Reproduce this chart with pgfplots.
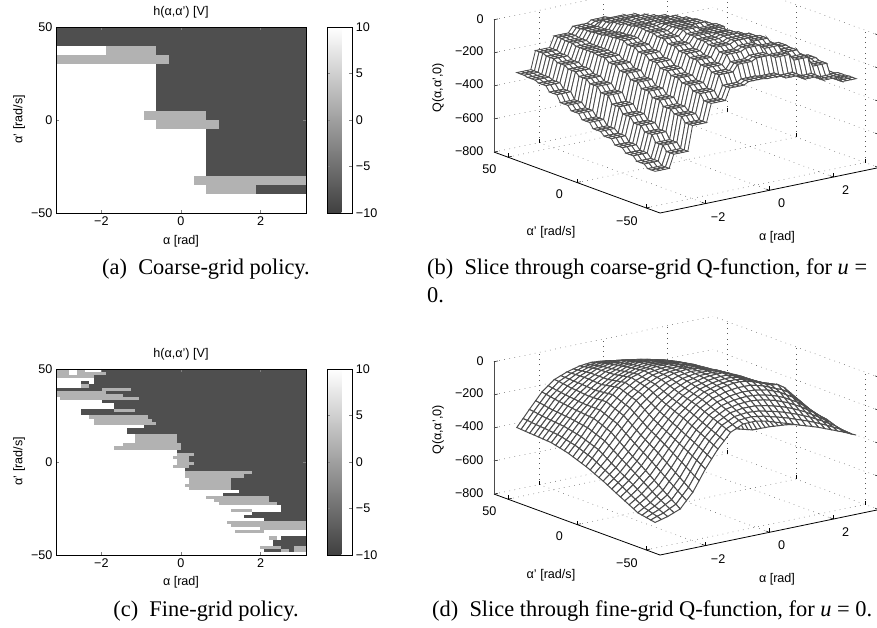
\documentclass[border=0pt]{standalone}
\usepackage{fontspec}
\setmainfont{Liberation Sans}
\newfontfamily\serifcap{Liberation Serif}
\usepackage{pgfplots}
\usepackage{pgfplotstable}
\pgfplotsset{compat=1.18}
\definecolor{hdark}{gray}{0.31}
\definecolor{hmid}{gray}{0.70}
\definecolor{meshc}{gray}{0.30}
\newcommand\tk{\fontsize{12.6}{14}\selectfont}
\newcommand\cp{\serifcap\fontsize{22.4}{25}\selectfont}
\newcommand\R[5]{%
 \pgfmathsetmacro\xa{-3.1416+0.10472*#2}\pgfmathsetmacro\xb{-3.1416+0.10472*#3}%
 \pgfmathsetmacro\ya{50-1.66667*(#4)}\pgfmathsetmacro\yb{50-1.66667*(#5)}%
 \addplot[fill=#1,draw=none,forget plot] coordinates {(\xa,\ya)(\xb,\ya)(\xb,\yb)(\xa,\yb)} --cycle;}
\newcommand\W[2]{\R{white}{0}{#2}{#1}{#1+1}}
\newcommand\Mi[3]{\R{hmid}{#2}{#3}{#1}{#1+1}}
\newcommand\Da[3]{\R{hdark}{#2}{#3}{#1}{#1+1}}
\pgfplotsset{
 policy/.style={scale only axis,width=250pt,height=186pt,
  xmin=-3.1416,xmax=3.1416,ymin=-50,ymax=50,axis on top,
  xtick={-2,0,2},xticklabels={−2,0,2},ytick={-50,0,50},yticklabels={−50,0,50},
  tick align=inside,major tick length=3pt,tick pos=both,tick label style={font=\tk},
  axis line style={line width=.5pt},
  colorbar,point meta min=-10,point meta max=10,
  colormap={g}{gray(0cm)=(0.25);gray(1cm)=(1)},
  colorbar style={scale only axis,width=25.4pt,height=186pt,at={(parent axis.north east)},anchor=north west,xshift=12.5pt,
    ytick={-10,-5,0,5,10},yticklabels={−10,−5,0,5,10},yticklabel pos=right,
    tick label style={font=\tk},major tick length=3pt,tick align=inside,axis line style={line width=.8pt}}},
 qaxis/.style={anchor=origin,x={(32pt,6.64pt)},y={(-1.383pt,0.508pt)},z={(0pt,0.1654pt)},
  xmin=-3.42,xmax=3.42,ymin=-60,ymax=60,zmin=-800,zmax=0,clip=false,
  xtick={-2,0,2},xticklabels={−2,0,2},ytick={-50,0,50},yticklabels={−50,0,50},
  ztick={-800,-600,-400,-200,0},zticklabels={−800,−600,−400,−200,0},
  tick label style={font=\tk},grid=major,
  xtick pos=left,ytick pos=left,ztick pos=left,
  xticklabel style={xshift=6.5pt,yshift=-5pt},
  yticklabel style={xshift=-11pt,yshift=-3pt},
  zticklabel style={xshift=-7pt},
  grid style={line width=.5pt,dash pattern=on .7pt off 4.5pt,black!65},
  axis line style={draw=none},tick style={black,line width=.5pt},major tick length=4pt},
 qsurf/.style={surf,shader=faceted,z buffer=none,faceted color=meshc,line width=.85pt,
  colormap={w}{color(0)=(white) color(1)=(white)},forget plot}
}
% coarse-grid Q values, one per grid cell: rows alpha' high to low, columns alpha high to low
\pgfplotstableread[header=false]{
-500 -350 -240 -160 -115 -85 -75 -90 -125 -190 -300
-480 -310 -200 -130 -85 -55 -55 -85 -130 -200 -305
-440 -280 -180 -105 -60 -35 -40 -80 -140 -215 -315
-410 -260 -160 -85 -40 -20 -25 -70 -140 -230 -345
-380 -250 -150 -75 -25 -8 -15 -65 -145 -250 -385
-345 -240 -140 -65 -15 -3 -20 -80 -165 -270 -410
-400 -300 -190 -100 -30 0 -30 -100 -190 -300 -440
-360 -240 -140 -65 -15 -12 -50 -125 -220 -345 -470
-340 -220 -120 -50 -10 -20 -70 -150 -250 -380 -490
-310 -190 -105 -40 -15 -30 -85 -170 -280 -410 -520
-295 -180 -110 -60 -35 -50 -105 -190 -310 -440 -545
-285 -190 -130 -90 -70 -85 -125 -215 -330 -480 -570
-282 -250 -220 -190 -170 -165 -180 -250 -360 -510 -590
}\Tcoarse
% fine-grid Q: first row alpha values, first column alpha' values
\pgfplotstableread[header=false]{
0 3.1416 2.9452 2.7489 2.5525 2.3562 2.1598 1.9635 1.7671 1.5708 1.3744 1.1781 0.9817 0.7854 0.589 0.3927 0.1963 0 -0.1963 -0.3927 -0.589 -0.7854 -0.9817 -1.1781 -1.3744 -1.5708 -1.7671 -1.9635 -2.1598 -2.3562 -2.5525 -2.7489 -2.9452 -3.1416
50 -645 -582 -520 -460 -400 -350 -300 -262 -225 -200 -175 -160 -145 -132 -120 -110 -100 -92 -85 -81 -78 -81 -85 -95 -105 -120 -135 -165 -195 -240 -285 -332 -378
46.875 -634 -566 -500 -440 -380 -332 -284 -247 -212 -187 -162 -148 -132 -120 -108 -98 -89 -82 -75 -72 -71 -76 -80 -92 -104 -121 -138 -170 -200 -244 -288 -334 -380
43.75 -622 -551 -480 -420 -360 -314 -268 -232 -198 -174 -150 -135 -120 -107 -95 -86 -78 -71 -65 -64 -64 -70 -75 -88 -102 -122 -142 -174 -205 -249 -292 -337 -382
40.625 -611 -536 -460 -400 -340 -296 -252 -217 -184 -161 -138 -122 -108 -94 -82 -74 -66 -60 -55 -56 -57 -64 -70 -85 -101 -124 -146 -178 -210 -254 -296 -340 -384
37.5 -600 -520 -440 -380 -320 -278 -235 -202 -170 -148 -125 -110 -95 -82 -70 -62 -55 -50 -45 -48 -50 -58 -65 -82 -100 -125 -150 -182 -215 -258 -300 -342 -385
34.375 -592 -514 -435 -374 -312 -271 -228 -196 -164 -141 -118 -102 -86 -74 -61 -54 -46 -42 -38 -42 -45 -55 -64 -82 -101 -126 -152 -185 -218 -261 -302 -344 -387
31.25 -584 -507 -430 -368 -305 -264 -222 -190 -158 -134 -110 -94 -78 -65 -52 -45 -38 -35 -32 -36 -40 -52 -62 -82 -102 -128 -155 -188 -222 -264 -305 -347 -389
28.125 -576 -500 -425 -362 -298 -257 -216 -184 -152 -127 -102 -86 -69 -56 -44 -36 -30 -28 -25 -30 -35 -48 -61 -82 -104 -130 -158 -192 -226 -267 -308 -350 -391
25 -568 -494 -420 -355 -290 -250 -210 -178 -145 -120 -95 -78 -60 -48 -35 -28 -22 -20 -18 -24 -30 -45 -60 -82 -105 -132 -160 -195 -230 -270 -310 -352 -393
21.875 -554 -484 -415 -354 -292 -252 -211 -178 -145 -119 -92 -74 -55 -43 -30 -24 -18 -16 -15 -20 -26 -40 -55 -77 -100 -129 -159 -196 -232 -274 -316 -358 -400
18.75 -539 -474 -410 -352 -295 -254 -212 -179 -145 -118 -90 -70 -50 -38 -25 -19 -14 -12 -12 -17 -22 -36 -50 -72 -95 -126 -158 -196 -235 -279 -322 -365 -406
15.625 -525 -464 -405 -351 -298 -256 -214 -180 -145 -116 -88 -66 -45 -33 -20 -14 -10 -8 -8 -14 -18 -32 -45 -67 -90 -123 -156 -197 -238 -284 -328 -372 -413
12.5 -510 -455 -400 -350 -300 -258 -215 -180 -145 -115 -85 -62 -40 -28 -15 -10 -5 -5 -5 -10 -15 -28 -40 -62 -85 -120 -155 -198 -240 -288 -335 -378 -420
9.375 -498 -446 -394 -345 -296 -254 -212 -176 -140 -110 -82 -59 -38 -26 -14 -8 -4 -4 -6 -12 -18 -34 -48 -71 -95 -130 -166 -209 -251 -298 -345 -388 -430
6.25 -485 -436 -388 -340 -292 -250 -208 -171 -135 -106 -78 -56 -35 -24 -12 -7 -2 -4 -6 -14 -22 -39 -55 -80 -105 -141 -178 -220 -262 -309 -355 -398 -440
3.125 -472 -427 -382 -335 -288 -246 -204 -166 -130 -102 -74 -53 -32 -22 -10 -6 -1 -4 -7 -16 -26 -44 -62 -89 -115 -152 -189 -231 -274 -320 -365 -408 -450
0 -460 -418 -375 -330 -285 -242 -200 -162 -125 -98 -70 -50 -30 -19 -8 -4 0 -4 -8 -19 -30 -50 -70 -98 -125 -162 -200 -242 -285 -330 -375 -418 -460
-3.125 -450 -407 -364 -318 -272 -229 -186 -149 -112 -86 -59 -42 -24 -16 -7 -5 -3 -8 -14 -27 -40 -62 -84 -114 -144 -182 -220 -262 -305 -349 -392 -433 -472
-6.25 -440 -396 -352 -306 -260 -216 -172 -136 -108 -84 -60 -40 -22 -12 -6 -6 -6 -13 -20 -35 -50 -74 -98 -130 -162 -201 -240 -282 -325 -368 -410 -448 -485
-9.375 -430 -386 -341 -294 -248 -203 -158 -123 -100 -78 -58 -38 -20 -9 -6 -7 -9 -18 -26 -43 -60 -86 -112 -146 -181 -220 -260 -302 -345 -386 -428 -463 -498
-12.5 -420 -375 -330 -282 -235 -190 -145 -110 -92 -72 -50 -32 -18 -6 -5 -8 -12 -22 -32 -51 -70 -98 -125 -162 -200 -240 -280 -322 -365 -405 -445 -478 -510
-15.625 -413 -366 -320 -272 -224 -180 -136 -104 -90 -70 -50 -34 -20 -10 -10 -13 -18 -28 -39 -58 -79 -108 -136 -175 -215 -256 -298 -340 -384 -422 -462 -494 -525
-18.75 -406 -358 -310 -261 -212 -170 -128 -98 -86 -68 -50 -36 -22 -14 -14 -18 -24 -35 -46 -66 -88 -118 -148 -188 -230 -272 -315 -358 -402 -440 -478 -509 -539
-21.875 -400 -350 -300 -250 -201 -160 -119 -92 -84 -66 -50 -36 -24 -18 -18 -23 -30 -42 -53 -74 -96 -128 -159 -202 -245 -288 -332 -376 -421 -458 -494 -524 -554
-25 -393 -342 -290 -240 -190 -150 -110 -85 -80 -64 -50 -36 -26 -21 -22 -28 -35 -48 -60 -82 -105 -138 -170 -215 -260 -305 -350 -395 -440 -475 -510 -540 -568
-28.125 -390 -341 -291 -247 -202 -166 -130 -106 -92 -76 -60 -50 -40 -40 -39 -44 -50 -62 -72 -94 -116 -150 -184 -230 -275 -322 -370 -415 -460 -494 -528 -556 -582
-31.25 -386 -340 -292 -254 -215 -182 -150 -128 -105 -90 -75 -68 -60 -58 -56 -60 -65 -75 -85 -106 -128 -163 -198 -244 -290 -340 -390 -435 -480 -512 -545 -571 -596
-34.375 -383 -339 -294 -261 -228 -198 -170 -149 -128 -112 -98 -89 -80 -76 -73 -76 -80 -88 -98 -118 -139 -176 -212 -258 -305 -358 -410 -455 -500 -531 -562 -586 -610
-37.5 -380 -338 -295 -268 -240 -215 -190 -170 -150 -135 -120 -110 -100 -95 -90 -92 -95 -102 -110 -130 -150 -188 -225 -272 -320 -375 -430 -475 -520 -550 -580 -602 -625
-40.625 -377 -342 -305 -281 -256 -234 -211 -193 -175 -160 -146 -136 -125 -118 -111 -110 -110 -116 -122 -142 -161 -200 -238 -287 -336 -394 -450 -494 -539 -565 -591 -610 -630
-43.75 -374 -345 -315 -294 -272 -252 -232 -216 -200 -186 -172 -161 -150 -142 -132 -129 -126 -130 -135 -154 -172 -213 -252 -302 -352 -412 -470 -514 -558 -580 -602 -618 -635
-46.875 -372 -348 -325 -307 -288 -271 -254 -239 -225 -212 -198 -186 -175 -165 -154 -148 -142 -144 -148 -166 -184 -226 -266 -317 -368 -430 -490 -533 -576 -595 -614 -626 -640
-50 -369 -352 -335 -320 -305 -290 -275 -262 -250 -238 -225 -212 -200 -188 -175 -166 -158 -159 -160 -178 -195 -238 -280 -332 -385 -448 -510 -552 -595 -610 -625 -635 -645
}\Tfine
\gdef\Fcoords{}%
\foreach \rr in {1,...,33}{%
 \pgfplotstablegetelem{\rr}{0}\of\Tfine\let\vv\pgfplotsretval
 \foreach \cc in {1,...,33}{%
  \pgfplotstablegetelem{0}{\cc}\of\Tfine\let\av\pgfplotsretval
  \pgfplotstablegetelem{\rr}{\cc}\of\Tfine
  \xdef\Fcoords{\Fcoords(\av,\vv,\pgfplotsretval)}%
 }}%
\gdef\Ccoords{}%
\foreach \jj in {0,...,38}{%
 \pgfmathtruncatemacro\rw{min(floor(\jj/3),12)}%
 \pgfmathsetmacro\vv{50-2.63158*\jj}%
 \foreach \ii in {0,...,43}{%
  \pgfmathtruncatemacro\cl{min(floor(\ii/4),10)}%
  \pgfmathsetmacro\av{3.1416-0.14612*\ii}%
  \pgfplotstablegetelem{\rw}{\cl}\of\Tcoarse
  \xdef\Ccoords{\Ccoords(\av,\vv,\pgfplotsretval)}%
 }}%
\begin{document}%
\begin{tikzpicture}[x=1pt,y=1pt]
\path[use as bounding box] (0,0) rectangle (877,627);
% (a)
\begin{axis}[policy,at={(56pt,414pt)},anchor=south west]
\R{hdark}{0}{60}{0}{60}
\R{white}{0}{12}{6}{9}\R{hmid}{12}{24}{6}{9}
\R{hmid}{0}{27}{9}{12}
\R{white}{0}{24}{12}{27}
\R{white}{0}{21}{27}{30}\R{hmid}{21}{36}{27}{30}
\R{white}{0}{24}{30}{33}\R{hmid}{24}{39}{30}{33}
\R{white}{0}{36}{33}{48}
\R{white}{0}{33}{48}{51}\R{hmid}{33}{60}{48}{51}
\R{white}{0}{36}{51}{54}\R{hmid}{36}{48}{51}{54}
\R{white}{0}{60}{54}{60}
\end{axis}
% (c)
\begin{axis}[policy,at={(56pt,72pt)},anchor=south west]
\R{hdark}{0}{60}{0}{60}
\Mi{0}{0}{3}\R{white}{3}{5}{0}{1}\Mi{0}{5}{7}\R{white}{7}{11}{0}{1}
\Mi{1}{0}{3}\R{white}{3}{5}{1}{2}\Mi{1}{5}{12}
\Mi{2}{0}{9}
\W{3}{9}
\W{4}{9}\Da{4}{6}{8}
\W{5}{6}\Mi{5}{6}{8}
\Da{6}{0}{11}\Mi{6}{11}{18}
\Mi{7}{0}{12}
\Mi{8}{0}{16}
\W{9}{1}\Mi{9}{1}{20}
\W{10}{11}
\W{11}{14}
\W{12}{14}
\W{13}{6}\Da{13}{6}{14}\Mi{13}{14}{19}
\W{14}{6}\Da{14}{6}{14}
\W{15}{8}\Mi{15}{8}{22}
\W{16}{9}\Mi{16}{9}{23}
\W{17}{9}\Mi{17}{9}{24}
\W{18}{21}
\W{19}{17}
\W{20}{17}
\W{21}{19}\Mi{21}{19}{29}
\W{22}{19}\Mi{22}{19}{29}
\W{23}{19}\Mi{23}{19}{29}
\W{24}{16}\Mi{24}{16}{30}
\W{25}{14}\Mi{25}{14}{30}
\W{26}{29}
\W{27}{29}\Mi{27}{29}{33}
\W{28}{28}\Mi{28}{28}{32}
\W{29}{29}\Mi{29}{29}{32}
\W{30}{29}\Mi{30}{29}{33}
\W{31}{28}\Mi{31}{28}{32}
\W{32}{31}
\W{33}{31}\Mi{33}{31}{47}
\W{34}{31}\Mi{34}{31}{45}
\W{35}{32}\Mi{35}{32}{42}
\W{36}{32}\Mi{36}{32}{42}
\W{37}{31}\Mi{37}{31}{42}
\W{38}{32}\Mi{38}{32}{42}
\W{39}{44}
\W{40}{40}
\W{41}{36}\Mi{41}{36}{51}
\W{42}{38}\Mi{42}{38}{51}
\W{43}{39}\Mi{43}{39}{53}
\W{44}{54}
\W{45}{54}\Mi{45}{42}{47}
\W{46}{47}
\W{47}{45}
\W{48}{50}
\W{49}{41}\Mi{49}{41}{60}
\W{50}{42}\Mi{50}{42}{60}
\W{51}{49}\Mi{51}{49}{60}
\W{52}{60}\Mi{52}{43}{50}
\W{53}{60}
\W{54}{54}\Mi{54}{51}{53}
\W{55}{52}
\W{56}{52}
\W{57}{49}\Mi{57}{49}{54}\Mi{57}{57}{60}
\W{58}{50}\Mi{58}{54}{56}\Mi{58}{57}{60}
\W{59}{60}
\end{axis}
% (b)
\begin{axis}[qaxis,at={(686.46pt,599.5pt)}]
\addplot3[black,line width=.8pt,forget plot] coordinates {(-3.42,60,-800)(-3.42,-60,-800)(3.42,-60,-800)};
\addplot3[black!70,line width=.9pt,forget plot] coordinates {(-3.42,60,-800)(-3.42,60,0)};
\edef\tmp{\noexpand\addplot3[qsurf,mesh/cols=44] coordinates {\Ccoords};}\tmp
\end{axis}
% (d)
\begin{axis}[qaxis,at={(686.46pt,257.5pt)}]
\addplot3[black,line width=.8pt,forget plot] coordinates {(-3.42,60,-800)(-3.42,-60,-800)(3.42,-60,-800)};
\addplot3[black!70,line width=.9pt,forget plot] coordinates {(-3.42,60,-800)(-3.42,60,0)};
\edef\tmp{\noexpand\addplot3[qsurf,line width=1pt,mesh/cols=33] coordinates {\Fcoords};}\tmp
\end{axis}
% texts
\node[font=\tk] at (181,614.5) {h(α,α') [V]};
\node[font=\tk] at (181,386) {α [rad]};
\node[font=\tk,rotate=90] at (19,508) {α' [rad/s]};
\node[font=\tk] at (181,273) {h(α,α') [V]};
\node[font=\tk] at (181,45) {α [rad]};
\node[font=\tk,rotate=90] at (19,166) {α' [rad/s]};
\node[font=\tk] at (777,390) {α [rad]};
\node[font=\tk] at (551,395) {α' [rad/s]};
\node[font=\tk,rotate=90] at (438,539) {Q(α,α',0)};
\node[font=\tk] at (777,48) {α [rad]};
\node[font=\tk] at (551,52) {α' [rad/s]};
\node[font=\tk,rotate=90] at (438,197) {Q(α,α',0)};
\node[font=\cp] at (206,358) {(a)\ \ Coarse-grid policy.};
\node[font=\cp] at (206,16) {(c)\ \ Fine-grid policy.};
\node[font=\cp,anchor=base west,inner sep=0pt] at (427,352) {(b)\ \ Slice through coarse-grid Q-function, for \textit{u} =};
\node[font=\cp,anchor=base west,inner sep=0pt] at (427,324) {0.};
\node[font=\cp,anchor=base west,inner sep=0pt] at (432,11) {(d)\ \ Slice through fine-grid Q-function, for \textit{u} = 0.};
\end{tikzpicture}%
\end{document}
